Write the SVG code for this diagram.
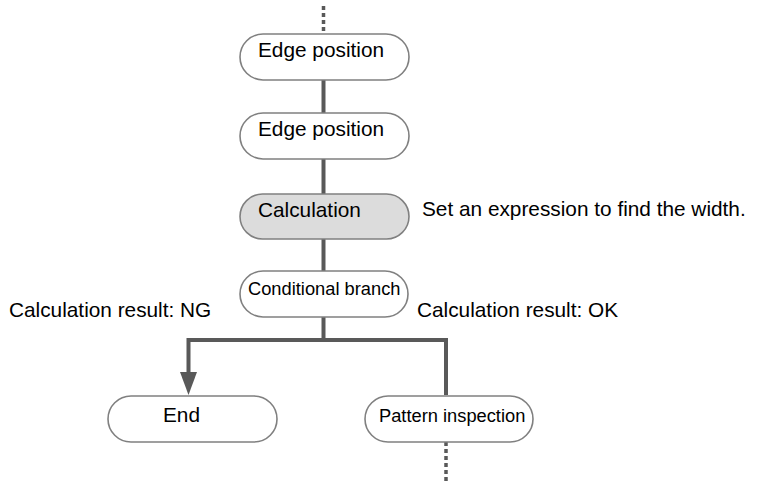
<svg xmlns="http://www.w3.org/2000/svg" width="759" height="484" viewBox="0 0 759 484">
<style>
.node{fill:#ffffff;stroke:#808080;stroke-width:1.6}
.node.hl{fill:#dcdcdc}
.t{font-family:"Liberation Sans",Arial,sans-serif;font-size:20.8px;fill:#000}
.s{font-size:18.3px}
.c{fill:none;stroke:#595959;stroke-width:4}
.d{fill:none;stroke:#595959;stroke-width:3.5;stroke-dasharray:4 3}
</style>
<defs>
<marker id="ah" markerWidth="17" markerHeight="23" refX="8.5" refY="23" orient="auto-start-reverse" markerUnits="userSpaceOnUse" viewBox="0 0 17 23">
<path d="M0,0 L17,0 L8.5,23 Z" fill="#595959"/>
</marker>
</defs>
<g id="connectors">
<line class="d" x1="323.5" y1="6" x2="323.5" y2="34"/>
<line class="c" x1="323.5" y1="80" x2="323.5" y2="113"/>
<line class="c" x1="323.5" y1="159" x2="323.5" y2="194"/>
<line class="c" x1="323.5" y1="239" x2="323.5" y2="271"/>
<path class="c" d="M323.5,317 L323.5,340"/>
<path class="c" d="M446,395 L446,340 L188.5,340 L188.5,372"/>
<path d="M180,372 L197,372 L188.5,395 Z" fill="#595959"/>
<line class="d" x1="446" y1="442" x2="446" y2="484"/>
</g>
<g id="n1">
<rect class="node" x="240" y="34" width="169" height="46" rx="23"/>
<text class="t" x="258" y="57">Edge position</text>
</g>
<g id="n2">
<rect class="node" x="240" y="113" width="169" height="46" rx="23"/>
<text class="t" x="258" y="136">Edge position</text>
</g>
<g id="n3">
<rect class="node hl" x="240" y="194" width="169" height="45" rx="22.5"/>
<text class="t" x="258" y="216.5">Calculation</text>
</g>
<g id="n4">
<rect class="node" x="240" y="271" width="168" height="46" rx="23"/>
<text class="t s" x="248" y="295">Conditional branch</text>
</g>
<g id="n5">
<rect class="node" x="108" y="396" width="169" height="46" rx="23"/>
<text class="t" x="163" y="421.5">End</text>
</g>
<g id="n6">
<rect class="node" x="365" y="396" width="168" height="46" rx="23"/>
<text class="t s" x="379" y="421.5">Pattern inspection</text>
</g>
<g id="labels">
<text class="t" x="422" y="216">Set an expression to find the width.</text>
<text class="t" x="9" y="316.5">Calculation result: NG</text>
<text class="t" x="417" y="316.5">Calculation result: OK</text>
</g>
</svg>
